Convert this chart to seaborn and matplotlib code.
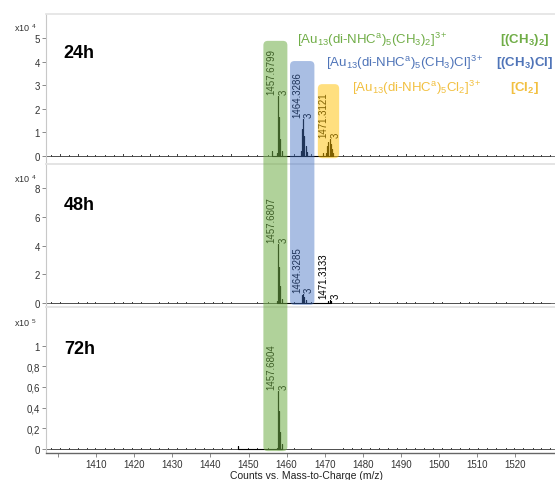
import numpy as np
import pandas as pd
import matplotlib
matplotlib.use('Agg')
import matplotlib.pyplot as plt
import seaborn as sns
from matplotlib.patches import FancyBboxPatch

sns.set_theme(style='white')
plt.rcParams['font.family'] = ['Liberation Sans', 'DejaVu Sans']
plt.rcParams['mathtext.fontset'] = 'custom'
plt.rcParams['mathtext.rm'] = 'Liberation Sans'
plt.rcParams['mathtext.it'] = 'Liberation Sans:italic'
plt.rcParams['mathtext.bf'] = 'Liberation Sans:bold'
plt.rcParams['mathtext.default'] = 'regular'

# ---- data ----
panels = ['24h', '48h', '72h']
scale_exp = [4, 4, 5]

# isotope sticks, heights in units of 10^exp counts
peaks_24h_mz = [1456.20, 1457.35, 1457.68, 1458.01, 1458.35, 1458.68,
                1463.66, 1464.00, 1464.33, 1464.66, 1465.00, 1465.33,
                1469.60, 1470.31, 1470.65, 1470.98, 1471.31, 1471.65, 1471.98, 1472.31]
peaks_24h_int = [0.19, 0.10, 2.55, 1.63, 0.71, 0.20,
                 0.22, 1.14, 1.56, 0.85, 0.42, 0.15,
                 0.10, 0.12, 0.43, 0.57, 0.71, 0.50, 0.28, 0.12]

peaks_48h_mz = [1457.35, 1457.68, 1458.01, 1458.35, 1458.68,
                1464.00, 1464.33, 1464.66, 1465.00,
                1470.98, 1471.31, 1471.65]
peaks_48h_int = [0.15, 4.10, 2.50, 1.20, 0.30,
                 0.55, 0.65, 0.45, 0.20,
                 0.15, 0.25, 0.18]

peaks_72h_mz = [1457.35, 1457.68, 1458.01, 1458.35, 1458.68, 1447.20]
peaks_72h_int = [0.010, 0.560, 0.370, 0.160, 0.050, 0.030]

# small baseline noise sticks
noise_mz = [1398.2, 1400.5, 1402.9, 1405.1, 1407.6, 1409.8, 1412.3, 1414.7, 1417.0,
            1419.4, 1421.8, 1424.1, 1426.5, 1428.9, 1431.2, 1433.6, 1436.0, 1438.3,
            1440.7, 1443.1, 1445.4, 1449.9, 1452.3, 1455.0, 1461.9, 1466.5, 1474.8,
            1477.2, 1479.6, 1482.0, 1484.3, 1486.7, 1489.1, 1491.4, 1493.8, 1496.2,
            1498.5, 1500.9, 1503.3, 1505.6, 1508.0, 1510.4, 1512.7, 1515.1, 1517.5,
            1519.8, 1522.2, 1524.6, 1526.9, 1529.3]
noise_24h = [0.04, 0.06, 0.03, 0.07, 0.05, 0.04, 0.05, 0.03, 0.09, 0.05, 0.04, 0.06,
             0.05, 0.04, 0.07, 0.05, 0.03, 0.05, 0.05, 0.04, 0.06, 0.04, 0.05, 0.05,
             0.06, 0.08, 0.05, 0.04, 0.05, 0.03, 0.05, 0.04, 0.05, 0.06, 0.03, 0.05,
             0.04, 0.05, 0.03, 0.05, 0.04, 0.06, 0.03, 0.05, 0.04, 0.05, 0.03, 0.05,
             0.04, 0.05]
noise_48h = [0.07, 0.09, 0.05, 0.10, 0.06, 0.08, 0.05, 0.09, 0.07, 0.06, 0.09, 0.05,
             0.08, 0.06, 0.09, 0.07, 0.05, 0.08, 0.06, 0.09, 0.07, 0.05, 0.08, 0.06,
             0.09, 0.07, 0.10, 0.06, 0.05, 0.08, 0.06, 0.05, 0.07, 0.06, 0.08, 0.05,
             0.07, 0.06, 0.05, 0.08, 0.06, 0.07, 0.05, 0.09, 0.06, 0.05, 0.07, 0.06,
             0.08, 0.05]
noise_72h = [0.006, 0.010, 0.005, 0.012, 0.007, 0.006, 0.009, 0.005, 0.011, 0.007,
             0.006, 0.008, 0.010, 0.006, 0.009, 0.007, 0.005, 0.008, 0.006, 0.007,
             0.010, 0.008, 0.006, 0.009, 0.012, 0.008, 0.007, 0.006, 0.008, 0.005,
             0.007, 0.006, 0.009, 0.008, 0.010, 0.007, 0.006, 0.009, 0.007, 0.008,
             0.006, 0.010, 0.007, 0.006, 0.009, 0.007, 0.005, 0.008, 0.006, 0.007]

# peak labels
labels_mz = ['1457.6799', '1464.3286', '1471.3121',
             '1457.6807', '1464.3285', '1471.3133',
             '1457.6804']
labels_panel = [0, 0, 0, 1, 1, 1, 2]
labels_x = [1457.68, 1464.33, 1471.31, 1457.68, 1464.33, 1471.31, 1457.68]
labels_y = [2.55, 1.56, 0.71, 4.10, 0.65, 0.25, 0.56]

ylims = [(-0.35, 6.02), (-0.28, 9.67), (-0.039, 1.37)]
yticks = [[0, 1, 2, 3, 4, 5], [0, 2, 4, 6, 8], [0, 0.2, 0.4, 0.6, 0.8, 1.0]]
ytick_labels = [['0', '1', '2', '3', '4', '5'], ['0', '2', '4', '6', '8'],
                ['0', '0,2', '0,4', '0,6', '0,8', '1']]
xticks = list(range(1400, 1530, 10))
xlim = (1396.8, 1530.5)

# highlight bands (m/z range, figure-y range)
band_colors = ['#70AD47', '#4472C4', '#FFC000']
band_alpha = [0.55, 0.46, 0.5]
band_x = [(1453.9, 1460.2), (1460.9, 1467.3), (1468.2, 1473.8)]
band_fy = [(0.060, 0.913), (0.364, 0.871), (0.669, 0.823)]

species = [r'[Au$_{13}$(di-NHC$^{a}$)$_{5}$(CH$_{3}$)$_{2}$]$^{3+}$',
           r'[Au$_{13}$(di-NHC$^{a}$)$_{5}$(CH$_{3}$)Cl]$^{3+}$',
           r'[Au$_{13}$(di-NHC$^{a}$)$_{5}$Cl$_{2}$]$^{3+}$']
short_names = [r'[(CH$_{3}$)$_{2}$]', r'[(CH$_{3}$)Cl]', r'[Cl$_{2}$]']
species_colors = ['#70AD47', '#4F74B8', '#F2C040']
species_x = [1462.7, 1470.3, 1477.2]
species_y = [4.97, 3.99, 2.92]


def profile(mz, inten):
    xs, ys = [], []
    for m, h in zip(mz, inten):
        xs += [m, m, m]
        ys += [0, h, 0]
    return pd.DataFrame({'mz': xs, 'counts': ys})


peak_mz = [peaks_24h_mz, peaks_48h_mz, peaks_72h_mz]
peak_int = [peaks_24h_int, peaks_48h_int, peaks_72h_int]
noise = [noise_24h, noise_48h, noise_72h]

fig = plt.figure(figsize=(5.55, 4.81), dpi=100)
bounds = [(0.657, 0.969), (0.359, 0.657), (0.0561, 0.359)]
axes = []
for i, (b0, b1) in enumerate(bounds):
    ax = fig.add_axes([0.0829, b0, 1 - 0.0829, b1 - b0])
    ax.set_facecolor('none')
    axes.append(ax)

    # baseline + noise + isotope sticks
    base = pd.DataFrame({'mz': [xlim[0], xlim[1]], 'counts': [0, 0]})
    sns.lineplot(data=base, x='mz', y='counts', ax=ax, color='#555555', lw=0.6)
    sns.lineplot(data=profile(noise_mz, noise[i]), x='mz', y='counts', ax=ax,
                 sort=False, estimator=None, color='#444444', lw=0.5)
    sns.lineplot(data=profile(peak_mz[i], peak_int[i]), x='mz', y='counts', ax=ax,
                 sort=False, estimator=None, color='black', lw=0.8)

    ax.set_xlim(*xlim)
    ax.set_ylim(*ylims[i])
    ax.set_yticks(yticks[i])
    ax.set_yticklabels(ytick_labels[i])
    ax.set_xlabel('')
    ax.set_ylabel('')
    ax.tick_params(axis='y', left=True, length=3, width=0.6, color='#777777',
                   labelsize=7, pad=1.5, labelcolor='#333333')
    ax.spines['right'].set_visible(False)
    ax.spines['top'].set_color('#e4e4e4')
    ax.spines['left'].set_color('#c8c8c8')
    ax.spines['left'].set_linewidth(0.8)
    if i < 2:
        ax.spines['bottom'].set_color('#e4e4e4')
        ax.set_xticks([])
    else:
        ax.spines['bottom'].set_color('#666666')
        ax.spines['bottom'].set_linewidth(1.0)
        ax.set_xticks(xticks)
        ax.set_xticklabels([''] + [str(t) for t in xticks[1:]])
        ax.tick_params(axis='x', bottom=True, length=3, width=0.6, color='#777777',
                       labelsize=7, pad=1.5, labelcolor='#333333')

    ax.text(0.035, 0.72 if i else 0.74, panels[i], transform=ax.transAxes,
            fontsize=13, fontweight='bold', color='black', ha='left', va='center')
    fig.text(0.025, b1 - 0.03 if i else b1 - 0.027, r'x10 $^{%d}$' % scale_exp[i],
             fontsize=6.5, color='#333333', ha='left', va='center')

for p, lab, x, y in zip(labels_panel, labels_mz, labels_x, labels_y):
    axes[p].annotate(lab + '\n3', xy=(x, y), xytext=(0, 1.5), textcoords='offset points',
                     rotation=90, ha='center', va='bottom', multialignment='left',
                     fontsize=7, color='black', linespacing=1.25)

for txt, short, col, x, y in zip(species, short_names, species_colors, species_x, species_y):
    axes[0].text(x, y, txt, fontsize=9.5, color=col, ha='left', va='center')
    axes[0].text(1522.5, y, short, fontsize=9.5, color=col, ha='center', va='center',
                 fontweight='bold')

# translucent highlight bands spanning the panels
fig.canvas.draw()
to_fig = fig.transFigure.inverted()
for col, a, (x0, x1), (fy0, fy1) in zip(band_colors, band_alpha, band_x, band_fy):
    px0 = axes[2].transData.transform((x0, 0))[0]
    px1 = axes[2].transData.transform((x1, 0))[0]
    fx0 = to_fig.transform((px0, 0))[0]
    fx1 = to_fig.transform((px1, 0))[0]
    patch = FancyBboxPatch((fx0, fy0), fx1 - fx0, fy1 - fy0,
                           boxstyle='round,pad=0,rounding_size=0.008',
                           mutation_aspect=5.55 / 4.81,
                           transform=fig.transFigure, facecolor=col, edgecolor='none',
                           alpha=a, zorder=5)
    fig.patches.append(patch)

fig.text(307 / 555, 1 - 476 / 481, 'Counts vs. Mass-to-Charge (m/z)', fontsize=7.5,
         color='#222222', ha='center', va='center')

plt.savefig('out.png', dpi=100)
plt.close()
